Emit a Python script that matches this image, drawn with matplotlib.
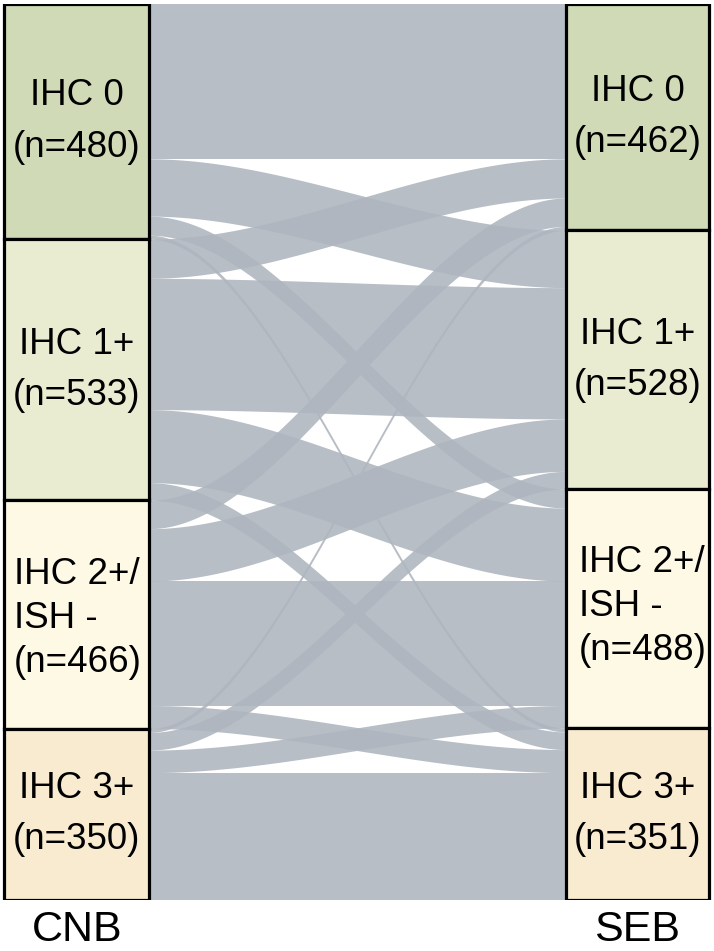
import numpy as np
import matplotlib
matplotlib.use("Agg")
import matplotlib.pyplot as plt
from matplotlib.patches import Rectangle

plt.rcParams["font.family"] = ["Liberation Sans", "DejaVu Sans"]

# ── Data ──
cnb_labels = ["IHC 0\n(n=480)", "IHC 1+\n(n=533)", "IHC 2+/\nISH -\n(n=466)", "IHC 3+\n(n=350)"]
seb_labels = ["IHC 0\n(n=462)", "IHC 1+\n(n=528)", "IHC 2+/\nISH -\n(n=488)", "IHC 3+\n(n=351)"]
cnb_counts = [480, 533, 466, 350]
seb_counts = [462, 528, 488, 351]
node_colors = ["#d0dab6", "#e9ecd1", "#fdf9e5", "#f8ebd0"]

# flows[i][j]: CNB category i -> SEB category j (estimated)
flows = np.array([
    [316, 117,  39,   8],
    [ 80, 268, 149,  36],
    [ 58, 107, 254,  47],
    [  8,  36,  46, 260],
])

total = sum(cnb_counts)

# ── Layout ──
W, H = 714, 951
fig = plt.figure(figsize=(W / 100, H / 100), dpi=100)
ax = fig.add_axes([0, 51 / H, 1, 896 / H])
ax.set_xlim(0, W)
ax.set_ylim(total, 0)
ax.axis("off")

XL0, XL1 = 4, 149     # left node column
XR0, XR1 = 566, 709   # right node column

# ── Flows ──
left_start = np.concatenate([[0], np.cumsum(cnb_counts)[:-1]])
right_start = np.concatenate([[0], np.cumsum(seb_counts)[:-1]])

# left side ordered by target, right side ordered by source
left_off = np.zeros((4, 4))
right_off = np.zeros((4, 4))
for i in range(4):
    acc = left_start[i]
    for j in range(4):
        left_off[i, j] = acc
        acc += flows[i, j]
for j in range(4):
    acc = right_start[j]
    for i in range(4):
        right_off[i, j] = acc
        acc += flows[i, j]

x = np.linspace(XL1, XR0, 300)
t = (x - XL1) / (XR0 - XL1)
s = 3 * t**2 - 2 * t**3

for i in range(4):
    for j in range(4):
        v = flows[i, j]
        if v == 0:
            continue
        y_top = left_off[i, j] + (right_off[i, j] - left_off[i, j]) * s
        y_bot = y_top + v
        ax.fill_between(x, y_top, y_bot, color="#afb6bf", alpha=0.89,
                        linewidth=0, zorder=1)

# ── Nodes ──
def draw_nodes(x0, x1, counts, labels, pad, shift3):
    y = 0
    for c, lab, col in zip(counts, labels, node_colors):
        ax.add_patch(Rectangle((x0, y), x1 - x0, c, facecolor=col,
                               edgecolor="black", linewidth=2.3, zorder=3))
        yc = y + c / 2
        if lab.count("\n") == 2:
            ax.text(x0 + pad, yc + shift3, lab, ha="left", va="center",
                    fontsize=26.5, linespacing=1.33, zorder=4)
        else:
            ax.text((x0 + x1) / 2, yc, lab, ha="center", va="center",
                    fontsize=26.5, linespacing=1.6, multialignment="center",
                    zorder=4)
        y += c

draw_nodes(XL0, XL1, cnb_counts, cnb_labels, 10, 8)
draw_nodes(XR0, XR1, seb_counts, seb_labels, 13, -4)

fig.text(77 / W, 1 - 950 / H, "CNB", ha="center", va="bottom", fontsize=31)
fig.text(637 / W, 1 - 950 / H, "SEB", ha="center", va="bottom", fontsize=31)

fig.savefig("out.png", dpi=100)
